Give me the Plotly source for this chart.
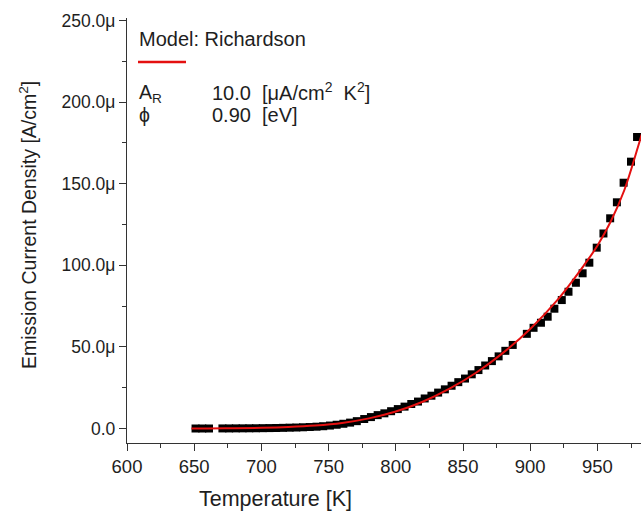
import plotly.graph_objects as go

# Measured data (Temperature [K], emission current density [µA/cm²])
T_data = [651, 656, 661, 671, 676, 681, 686, 691, 696, 701, 706, 711, 716, 721, 726,
          731, 736, 741, 746, 751, 756, 761, 766, 771, 776.5, 781.5, 786.5, 791.5,
          796.5, 801.5, 806.5, 811.5, 816.5, 821.5, 826.5, 831.5, 836.5, 841.5, 846.5,
          851.5, 856.5, 861.5, 866.5, 871.5, 876.5, 881.5, 887, 897.5, 902.5, 908, 913,
          918, 923.5, 928.5, 934, 939, 944, 949.5, 954.5, 959.5, 964.5, 969.5, 975, 979.5]
J_data = [0.0, 0.0, 0.0, 0.05, 0.05, 0.08, 0.1, 0.12, 0.15, 0.2, 0.25, 0.3, 0.4, 0.5, 0.6,
          0.75, 0.9, 1.1, 1.4, 1.8, 2.3, 2.9, 3.6, 4.5, 5.8, 7.0, 8.2, 9.3,
          10.6, 11.9, 13.4, 15.0, 16.5, 18.4, 20.1, 22.0, 24.0, 26.2, 28.4,
          30.6, 33.2, 35.8, 38.6, 41.3, 44.2, 47.6, 51.2, 58.0, 61.7, 64.8, 68.5,
          73.4, 78.7, 83.8, 89.3, 95.1, 101.6, 110.8, 119.5, 128.8, 138.6, 150.6, 163.5, 178.6]

# Richardson model curve
T_fit = [648, 660, 680, 700, 720, 740, 760, 780, 800, 820, 840, 860, 880, 900, 920, 940,
         950, 960, 970, 980, 985]
J_fit = [0.03, 0.06, 0.15, 0.4, 0.9, 1.8, 3.4, 6.2, 10.4, 16.4, 24.4, 34.3, 46.5, 61, 78.5,
         100, 112, 127, 146, 172, 186]

# Axis ticks
x_major = [600, 650, 700, 750, 800, 850, 900, 950]
x_minor = [625, 675, 725, 775, 825, 875, 925, 975]
y_major = [0, 50, 100, 150, 200, 250]
y_labels = ["0.0", "50.0\u03bc", "100.0\u03bc", "150.0\u03bc", "200.0\u03bc", "250.0\u03bc"]
y_minor = [25, 75, 125, 175, 225]

W, H = 641, 513
L, R, T, B = 127, 0, 18, 70
pw, ph = W - L - R, H - T - B

def px(x):
    return (x - L) / pw

def py(y):
    return (H - B - y) / ph

FONT = "Liberation Sans, Arial, sans-serif"
TXT = "#1e1e1e"
RED = "#e41010"
AX = "#333333"

fig = go.Figure()
fig.add_trace(go.Scatter(x=T_data, y=J_data, mode="markers",
                         marker=dict(symbol="square", size=8, color="black", line=dict(width=0))))
fig.add_trace(go.Scatter(x=T_fit, y=J_fit, mode="lines", line=dict(color=RED, width=2, shape="spline"),
                         hoverinfo="skip"))

fig.update_layout(
    width=W, height=H, margin=dict(l=L, r=R, t=T, b=B, pad=0),
    paper_bgcolor="white", plot_bgcolor="white", showlegend=False,
    font=dict(family=FONT, color=TXT, size=18),
)
fig.update_xaxes(range=[600, 600 + pw / 67.2 * 50], tickmode="array", tickvals=x_major,
                 ticks="outside", ticklen=7, tickwidth=1.3, tickcolor=AX,
                 showline=True, linecolor=AX, linewidth=1.3, showgrid=False, zeroline=False,
                 tickfont=dict(size=18.5, family=FONT, color=TXT),
                 minor=dict(tickvals=x_minor, ticks="outside", ticklen=4, tickwidth=1.3, tickcolor=AX))
fig.update_yaxes(range=[-(443 - 428.5) / 81.6 * 50, 250 + (20.5 - 18) / 81.6 * 50],
                 tickmode="array", tickvals=y_major, ticktext=y_labels,
                 ticks="outside", ticklen=7, tickwidth=1.3, tickcolor=AX,
                 showline=True, linecolor=AX, linewidth=1.3, showgrid=False, zeroline=False,
                 tickfont=dict(size=17.5, family=FONT, color=TXT),
                 minor=dict(tickvals=y_minor, ticks="outside", ticklen=4, tickwidth=1.3, tickcolor=AX))

ann = [
    dict(text="Temperature [K]", x=px(275), y=py(499), xanchor="center", yanchor="middle", size=21.5),
    dict(text="Emission Current Density [A/cm<sup>2</sup>]", x=px(28), y=py(225), xanchor="center",
         yanchor="middle", size=19.5, textangle=-90),
    dict(text="Model: Richardson", x=px(137), y=py(39), xanchor="left", yanchor="middle", size=20),
    dict(text="A<sub>R</sub>", x=px(137), y=py(93), xanchor="left", yanchor="middle", size=19.5),
    dict(text="10.0  [\u03bcA/cm<sup>2</sup>  K<sup>2</sup>]", x=px(210), y=py(92), xanchor="left",
         yanchor="middle", size=20),
    dict(text="\u03d5", x=px(137), y=py(115), xanchor="left", yanchor="middle", size=19.5),
    dict(text="0.90  [eV]", x=px(210), y=py(115), xanchor="left", yanchor="middle", size=20),
]
for a in ann:
    fig.add_annotation(text=a["text"], x=a["x"], y=a["y"], xref="paper", yref="paper",
                       xanchor=a["xanchor"], yanchor=a["yanchor"], showarrow=False,
                       textangle=a.get("textangle", 0),
                       font=dict(size=a["size"], family=FONT, color=TXT))

fig.add_shape(type="line", xref="paper", yref="paper", x0=px(138), x1=px(186), y0=py(62), y1=py(62),
              line=dict(color=RED, width=2.5))

fig.write_html("out.html", config={"displayModeBar": False},
               post_script="document.body.style.margin='0px';document.body.style.overflow='hidden';")
